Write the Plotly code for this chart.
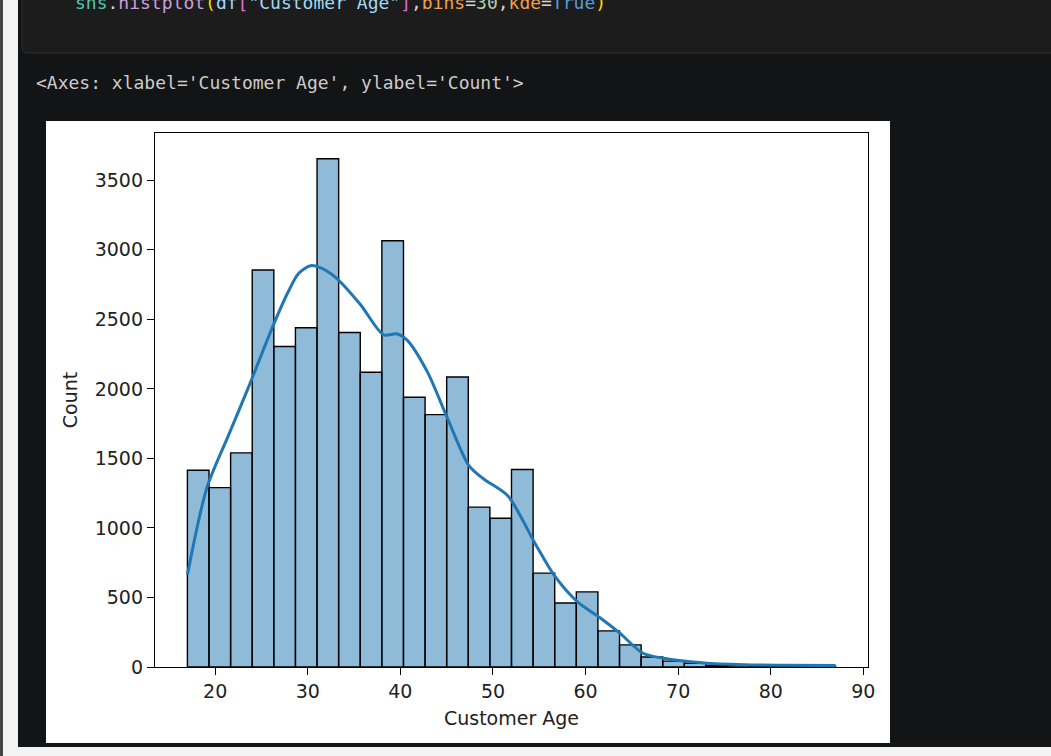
import numpy as np
import plotly.graph_objects as go

W, H = 1051, 756

# sns.histplot(df["Customer Age"], bins=30, kde=True)
age_min, age_max, n_bins = 17, 87, 30
counts = [1415, 1290, 1540, 2855, 2305, 2440, 3655, 2405, 2120, 3065,
          1940, 1815, 2085, 1150, 1070, 1420, 675, 460, 540, 260,
          159, 72, 42, 27, 10, 12, 6, 5, 8, 6]

# kde curve
kde_x = [17.0, 19.1, 21.4, 23.8, 26.1, 27.9, 29.0, 30.3, 31.4, 33.0,
         35.7, 38.2, 39.6, 40.7, 42.9, 45.1, 47.4, 49.0, 51.6, 54.5,
         56.6, 59.1, 61.6, 63.7, 66.2, 68.4, 70.6, 73.1, 78.0, 82.0, 87.0]
kde_y = [663, 1288, 1660, 2045, 2430, 2700, 2830, 2886, 2870, 2802,
         2605, 2388, 2396, 2352, 2124, 1786, 1448, 1352, 1231, 894,
         660, 470, 352, 243, 99, 63, 43, 27, 15, 12, 10]

x_ticks = [20, 30, 40, 50, 60, 70, 80, 90]
y_ticks = [0, 500, 1000, 1500, 2000, 2500, 3000, 3500]

edges = np.linspace(age_min, age_max, n_bins + 1)
centers = (edges[:-1] + edges[1:]) / 2
bin_w = edges[1] - edges[0]


# pixel -> paper helpers (margins are zero)
def px(x):
    return x / W


def py(y):
    return 1 - y / H


fig = go.Figure()
fig.add_bar(x=centers, y=counts, width=bin_w,
            marker=dict(color="rgba(31,119,180,0.5)",
                        line=dict(color="black", width=1.4)))
fig.add_scatter(x=kde_x, y=kde_y, mode="lines",
                line=dict(color="#1f77b4", width=3, shape="spline", smoothing=0.8))

axis_font = dict(family="DejaVu Sans", size=19, color="#222222")
common = dict(showgrid=False, zeroline=False, showline=True, linecolor="black",
              linewidth=1.3, mirror=True, ticks="outside", ticklen=7,
              tickwidth=1.3, tickcolor="black", tickfont=axis_font,
              automargin=False)

fig.update_xaxes(domain=[px(155), px(868)], range=[13.5, 90.5], tickvals=x_ticks,
                 title=dict(text="Customer Age", font=axis_font, standoff=10),
                 **common)
fig.update_yaxes(domain=[py(667), py(133)], range=[0, 3840], tickvals=y_ticks,
                 title=dict(text="Count", font=axis_font, standoff=12),
                 **common)

# notebook chrome
shapes = [
    dict(type="rect", x0=px(0), x1=px(3), y0=py(756), y1=py(0),
         fillcolor="#454545", line_width=0),
    dict(type="rect", x0=px(3), x1=px(18), y0=py(756), y1=py(0),
         fillcolor="#f3f3f3", line_width=0),
    dict(type="rect", x0=px(3), x1=px(1051), y0=py(756), y1=py(747),
         fillcolor="#f3f3f3", line_width=0),
    dict(type="path",
         path=f"M {px(22)},{py(-5)} L {px(22)},{py(47)} Q {px(22)},{py(53)} {px(28)},{py(53)} "
              f"L {px(1060)},{py(53)} L {px(1060)},{py(-5)} Z",
         fillcolor="#1c1c1c", line=dict(color="#303030", width=1)),
    dict(type="rect", x0=px(46), x1=px(890), y0=py(743), y1=py(121),
         fillcolor="white", line_width=0),
]
for s in shapes:
    s.update(xref="paper", yref="paper", layer="below")

code = ('<span style="color:#4ec9b0">sns</span>'
        '<span style="color:#d4d4d4">.</span>'
        '<span style="color:#c9a0dc">histplot</span>'
        '<span style="color:#ffd700">(</span>'
        '<span style="color:#9cdcfe">df</span>'
        '<span style="color:#da70d6">[</span>'
        '<span style="color:#a6d8f0">"Customer Age"</span>'
        '<span style="color:#da70d6">]</span>'
        '<span style="color:#d4d4d4">,</span>'
        '<span style="color:#f0a050">bins</span>'
        '<span style="color:#d4d4d4">=</span>'
        '<span style="color:#b5cea8">30</span>'
        '<span style="color:#d4d4d4">,</span>'
        '<span style="color:#f0a050">kde</span>'
        '<span style="color:#d4d4d4">=</span>'
        '<span style="color:#569cd6">True</span>'
        '<span style="color:#ffd700">)</span>')

mono = dict(family="DejaVu Sans Mono", size=18)
annotations = [
    dict(text=code, x=px(73), y=py(3), xanchor="left", yanchor="middle",
         showarrow=False, font=dict(mono, color="#d4d4d4")),
    dict(text="&lt;Axes: xlabel='Customer Age', ylabel='Count'&gt;",
         x=px(34), y=py(82), xanchor="left", yanchor="middle",
         showarrow=False, font=dict(mono, color="#cccccc")),
]
for a in annotations:
    a.update(xref="paper", yref="paper")

fig.update_layout(width=W, height=H, margin=dict(l=0, r=0, t=0, b=0),
                  paper_bgcolor="#131416", plot_bgcolor="white",
                  showlegend=False, shapes=shapes, annotations=annotations)

# the page's default body margin would shift the figure by 8px
fig.write_html("out.html", config={"displayModeBar": False},
               post_script="document.body.style.margin = '0';")
